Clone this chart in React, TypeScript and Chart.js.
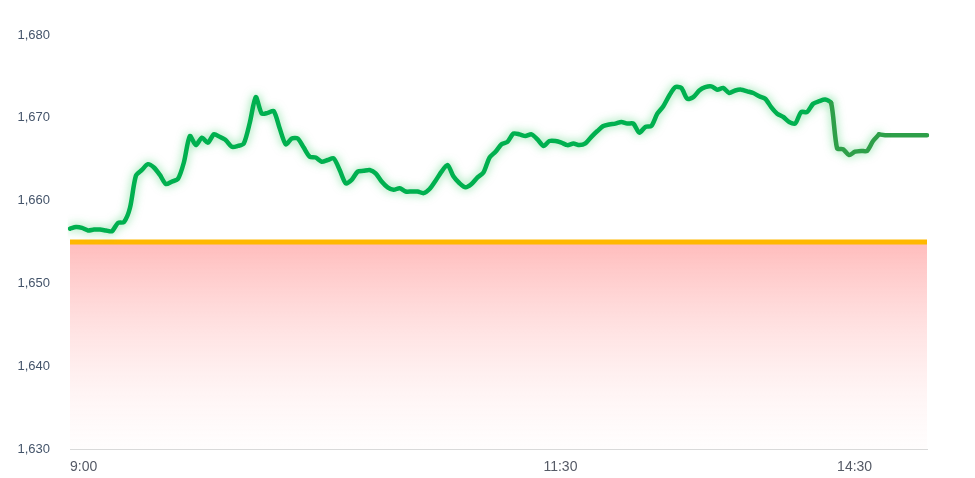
import React, { useEffect, useRef } from "react";
import { Chart, registerables } from "chart.js";

Chart.register(...registerables);

// Intraday prices, one value per sampling step from 9:00 onward
const prices: number[] = [
  1656.6, 1656.8, 1656.7, 1656.4, 1656.5, 1656.5, 1656.4, 1656.3, 1657.3, 1657.4,
  1659.1, 1663.0, 1663.7, 1664.4, 1664.0, 1663.1, 1662.0, 1662.3, 1662.6, 1664.6,
  1667.8, 1666.7, 1667.6, 1667.0, 1668.0, 1667.7, 1667.3, 1666.5, 1666.6, 1666.9,
  1669.4, 1672.5, 1670.5, 1670.6, 1670.8, 1668.7, 1666.8, 1667.5, 1667.5, 1666.4,
  1665.3, 1665.2, 1664.7, 1664.9, 1665.1, 1663.7, 1662.1, 1662.5, 1663.5, 1663.6,
  1663.7, 1663.3, 1662.3, 1661.6, 1661.3, 1661.5, 1661.1, 1661.1, 1661.1, 1660.9,
  1661.4, 1662.4, 1663.5, 1664.3, 1662.9, 1662.1, 1661.6, 1662.0, 1662.8, 1663.4,
  1665.2, 1665.9, 1666.8, 1667.1, 1668.1, 1668.0, 1667.8, 1668.0, 1667.4, 1666.6,
  1667.2, 1667.2, 1667.0, 1666.7, 1666.9, 1666.7, 1666.9, 1667.7, 1668.4, 1669.0,
  1669.2, 1669.3, 1669.5, 1669.3, 1669.3, 1668.2, 1668.9, 1669.0, 1670.5, 1671.4,
  1672.7, 1673.7, 1673.6, 1672.3, 1672.5, 1673.3, 1673.7, 1673.8, 1673.4, 1673.6,
  1673.0, 1673.3, 1673.4, 1673.2, 1673.0, 1672.6, 1672.3, 1671.3, 1670.5, 1670.1,
  1669.5, 1669.3, 1670.7, 1670.7, 1671.7, 1672.0, 1672.2, 1671.8, 1666.3, 1666.2,
  1665.5, 1665.9, 1666.0, 1666.0, 1667.2, 1668.0, 1667.9, 1667.9, 1667.9, 1667.9,
  1667.9, 1667.9, 1667.9, 1667.9,
];

// Number of traded steps (the rest is the flat projection)
const liveCount = 136;
// Index after which the line is drawn in the darker shade
const darkFrom = 127;

// Reference (previous close) level
const referencePrice = 1655;

// X tick labels and the sample indices they belong to
const tickLabels: string[] = ["9:00", "11:30", "14:30"];
const tickIndices: number[] = [0, 79, 128];

// Y axis
const yMin = 1630;
const yMax = 1680;
const yStep = 10;

const glowPlugin = {
  id: "glow",
  beforeDatasetDraw(chart: any, args: any) {
    const ds = chart.data.datasets[args.index] as any;
    if (ds._glow) {
      const c = chart.ctx;
      c.save();
      c.shadowColor = ds._glow;
      c.shadowBlur = ds._glowBlur || 8;
      c.shadowOffsetX = 0;
      c.shadowOffsetY = 0;
    }
  },
  afterDatasetDraw(chart: any, args: any) {
    const ds = chart.data.datasets[args.index] as any;
    if (ds._glow) chart.ctx.restore();
  },
};

export default function App() {
  const ref = useRef<HTMLCanvasElement | null>(null);

  useEffect(() => {
    document.body.style.margin = "0";
    const canvas = ref.current;
    if (!canvas) return;

    const labels = prices.map((_, i) => {
      const k = tickIndices.indexOf(i);
      return k >= 0 ? tickLabels[k] : "";
    });
    const live = prices.map((v, i) => (i < liveCount ? v : null));
    const tail = prices.map((v, i) => (i >= liveCount - 1 ? v : null));
    const refLine = prices.map(() => referencePrice);

    const chart = new Chart(canvas, {
      type: "line",
      data: {
        labels,
        datasets: [
          {
            data: refLine,
            borderColor: "#ffb800",
            borderWidth: 5,
            pointRadius: 0,
            fill: "start",
            backgroundColor: (ctx: any) => {
              const ch = ctx.chart;
              const area = ch.chartArea;
              if (!area) return "rgba(255,180,180,0.5)";
              const top = ch.scales.y.getPixelForValue(referencePrice);
              const g = ch.ctx.createLinearGradient(0, top, 0, area.bottom);
              g.addColorStop(0, "rgba(255,165,165,0.75)");
              g.addColorStop(1, "rgba(255,235,235,0.1)");
              return g;
            },
            order: 3,
          } as any,
          {
            data: live,
            borderColor: "#00b04f",
            borderWidth: 4.5,
            pointRadius: 0,
            tension: 0.25,
            fill: false,
            borderCapStyle: "round",
            borderJoinStyle: "round",
            segment: {
              borderColor: (ctx: any) =>
                ctx.p0DataIndex >= darkFrom ? "#2e9f49" : undefined,
            },
            _glow: "rgba(40,200,90,0.6)",
            _glowBlur: 10,
            order: 1,
          } as any,
          {
            data: tail,
            borderColor: "#2e9f49",
            borderWidth: 4.5,
            pointRadius: 0,
            tension: 0,
            fill: false,
            borderCapStyle: "round",
            order: 2,
          } as any,
        ],
      },
      options: {
        animation: false,
        responsive: true,
        maintainAspectRatio: false,
        layout: { padding: { left: 18, right: 48, top: 35, bottom: 0 } },
        plugins: {
          legend: { display: false },
          tooltip: { enabled: false },
        },
        scales: {
          x: {
            afterFit: (s: any) => {
              s.height = 29;
            },
            grid: { display: false, drawTicks: false },
            border: { display: true, color: "#d9d9d9", width: 1 },
            ticks: {
              autoSkip: false,
              maxRotation: 0,
              minRotation: 0,
              align: "start",
              padding: 10,
              color: "#555a66",
              font: { family: "'Liberation Sans', Arial, sans-serif", size: 14 },
              callback: (v: any) => labels[v as number],
            },
          },
          y: {
            min: yMin,
            max: yMax,
            afterFit: (s: any) => {
              s.width = 52;
            },
            grid: { display: false, drawTicks: false },
            border: { display: false },
            ticks: {
              stepSize: yStep,
              padding: 20,
              color: "#44546a",
              font: { family: "'Liberation Sans', Arial, sans-serif", size: 13 },
              callback: (v: any) => Number(v).toLocaleString("en-US"),
            },
          },
        },
      },
      plugins: [glowPlugin],
    });

    return () => chart.destroy();
  }, []);

  return (
    <div style={{ width: 975, height: 478, position: "relative" }}>
      <canvas ref={ref} />
    </div>
  );
}
